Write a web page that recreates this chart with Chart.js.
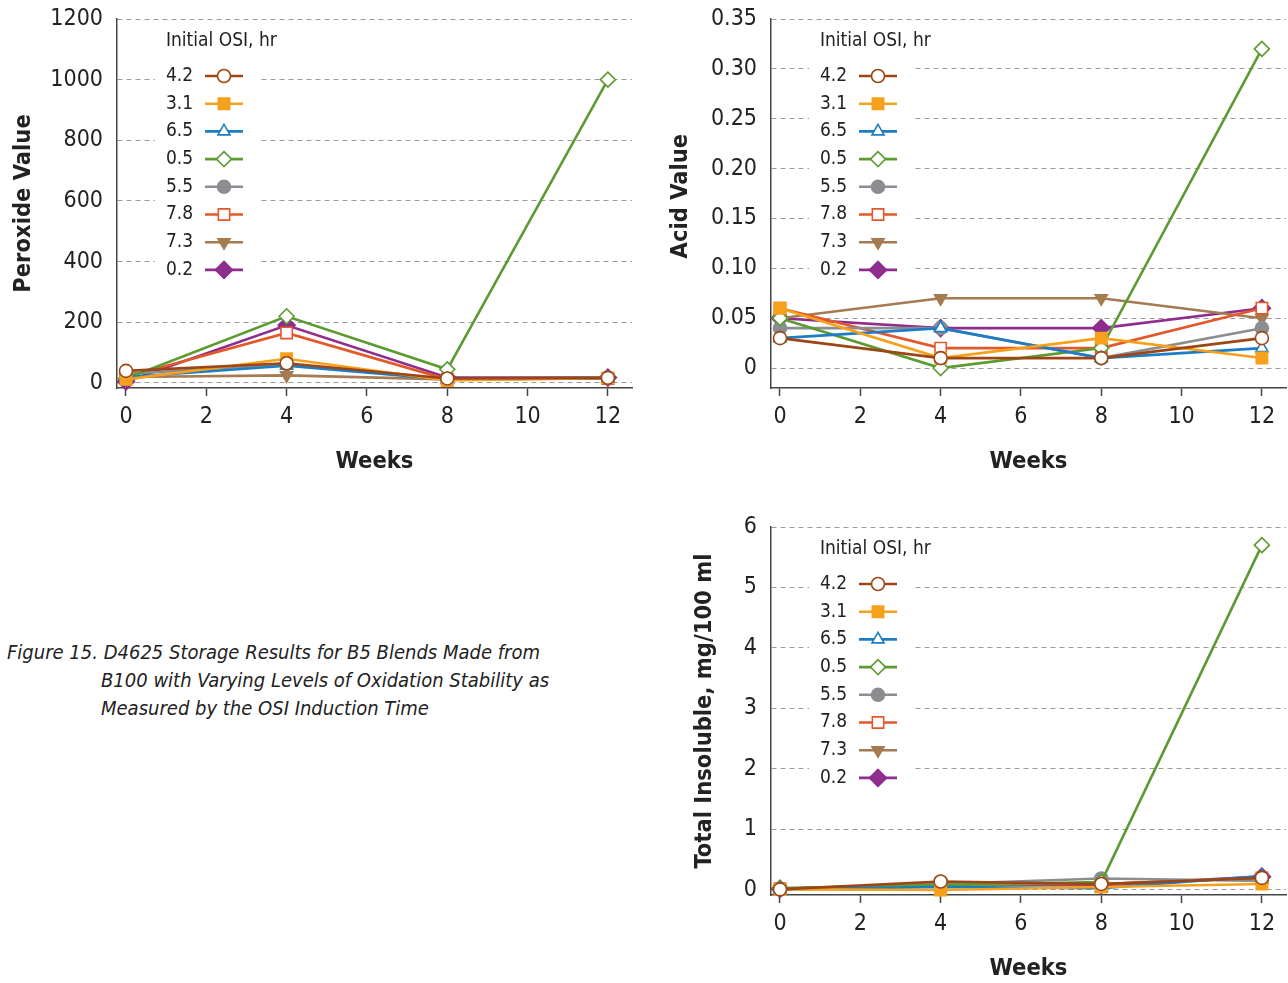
<!DOCTYPE html>
<html>
<head>
<meta charset="utf-8">
<script src="https://cdn.jsdelivr.net/npm/chart.js@4/dist/chart.umd.min.js"></script>
<style>
  html, body { margin: 0; padding: 0; background: #fff; }
  body { width: 1288px; height: 983px; position: relative; overflow: hidden; }
  .box { position: absolute; }
  #caption {
    position: absolute; left: 7px; top: 638px;
    font-family: 'Liberation Sans Narrow', 'DejaVu Sans Condensed', Roboto, sans-serif;
    font-style: italic; font-size: 20px; line-height: 28px; color: #222;
    white-space: nowrap;
  }
  #caption .ind { padding-left: 94px; }
</style>
</head>
<body>
<div class="box" style="left:0;top:0"><canvas id="perox" width="645" height="490"></canvas></div>
<div class="box" style="left:655px;top:0"><canvas id="acid" width="644" height="490"></canvas></div>
<div class="box" style="left:655px;top:500px"><canvas id="insol" width="644" height="483"></canvas></div>
<div id="caption">
  <div>Figure 15. D4625 Storage Results for B5 Blends Made from</div>
  <div class="ind">B100 with Varying Levels of Oxidation Stability as</div>
  <div class="ind">Measured by the OSI Induction Time</div>
</div>
<script>
"use strict";

const FONT = "'Liberation Sans Narrow', 'DejaVu Sans Condensed', Roboto, sans-serif";

// storage time, weeks
const WEEKS = [0, 4, 8, 12];
const X_TICKS = [0, 2, 4, 6, 8, 10, 12];

// one series per initial OSI value (hr), same order as below
const OSI_LABELS = ["4.2", "3.1", "6.5", "0.5", "5.5", "7.8", "7.3", "0.2"];

const PEROXIDE = [
  [40, 65, 15, 17],
  [12, 80, 8, 17],
  [19, 57, 12, 17],
  [15, 220, 45, 1000],
  [30, 62, 12, 17],
  [20, 165, 12, 15],
  [20, 25, 12, 17],
  [5, 190, 18, 18],
];
const PEROXIDE_TICKS = [0, 200, 400, 600, 800, 1000, 1200];

const ACID = [
  [0.03, 0.01, 0.01, 0.03],
  [0.06, 0.01, 0.03, 0.01],
  [0.03, 0.04, 0.01, 0.02],
  [0.05, 0.00, 0.02, 0.32],
  [0.04, 0.04, 0.01, 0.04],
  [0.06, 0.02, 0.02, 0.06],
  [0.05, 0.07, 0.07, 0.05],
  [0.05, 0.04, 0.04, 0.06],
];
const ACID_TICKS = [0, 0.05, 0.10, 0.15, 0.20, 0.25, 0.30, 0.35];

const INSOLUBLE = [
  [0.01, 0.14, 0.10, 0.20],
  [0.01, 0.00, 0.05, 0.10],
  [0.01, 0.05, 0.03, 0.23],
  [0.03, 0.08, 0.13, 5.70],
  [0.02, 0.10, 0.19, 0.15],
  [0.02, 0.10, 0.10, 0.20],
  [0.02, 0.10, 0.10, 0.20],
  [0.02, 0.10, 0.08, 0.22],
];
const INSOLUBLE_TICKS = [0, 1, 2, 3, 4, 5, 6];

/* marker style per series */
const STYLES = [
  { color: "#9c4615", style: "circle",   fill: "#fff",    r: 6.5 },
  { color: "#f6a11c", style: "rect",     fill: "#f6a11c", r: 8 },
  { color: "#1c7cc4", style: "triangle", fill: "#fff",    r: 7 },
  { color: "#5c9b31", style: "rectRot",  fill: "#fff",    r: 7.5 },
  { color: "#8b8d90", style: "circle",   fill: "#8b8d90", r: 6.5 },
  { color: "#e2582a", style: "rect",     fill: "#fff",    r: 8 },
  { color: "#a57b52", style: "triangle", fill: "#a57b52", r: 7, rot: 180 },
  { color: "#8e2d8e", style: "rectRot",  fill: "#8e2d8e", r: 8.5 },
];

Chart.defaults.font.family = FONT;
Chart.defaults.color = "#222";

/* in-plot legend: label text on the left, line + marker on the right */
const osiLegend = {
  id: "osiLegend",
  beforeDatasetsDraw(chart) {
    const { ctx, chartArea: a } = chart;
    ctx.save();
    ctx.fillStyle = "#fff";
    ctx.fillRect(a.left + 38, a.top + 6, 105, 258);
    ctx.font = `19px ${FONT}`;
    ctx.textBaseline = "middle";
    ctx.textAlign = "left";
    ctx.fillStyle = "#222";
    ctx.fillText("Initial OSI, hr", a.left + 49, a.top + 22);
    chart.data.datasets.forEach((ds, i) => {
      const y = a.top + 57 + i * 27.7;
      ctx.fillStyle = "#222";
      ctx.fillText(ds.label, a.left + 49, y);
      ctx.strokeStyle = ds.borderColor;
      ctx.lineWidth = ds.borderWidth;
      ctx.beginPath();
      ctx.moveTo(a.left + 88, y);
      ctx.lineTo(a.left + 126, y);
      ctx.stroke();
      ctx.fillStyle = ds.pointBackgroundColor;
      ctx.strokeStyle = ds.pointBorderColor;
      ctx.lineWidth = ds.pointBorderWidth;
      Chart.helpers.drawPoint(ctx, {
        pointStyle: ds.pointStyle,
        rotation: ds.pointRotation || 0,
        radius: ds.pointRadius,
        borderWidth: ds.pointBorderWidth,
      }, a.left + 107, y);
    });
    ctx.restore();
  },
};

function buildDatasets(rows) {
  return rows.map((row, i) => {
    const s = STYLES[i];
    return {
      label: OSI_LABELS[i],
      data: WEEKS.map((w, j) => ({ x: w, y: row[j] })),
      borderColor: s.color,
      backgroundColor: s.color,
      borderWidth: 2.6,
      pointStyle: s.style,
      pointRotation: s.rot || 0,
      pointRadius: s.r,
      pointBackgroundColor: s.fill,
      pointBorderColor: s.color,
      pointBorderWidth: 1.6,
      tension: 0,
      clip: false,
    };
  });
}

// drop the label overhang Chart.js reserves, so the plot area sits where we put it
function noOverhang(s) {
  s.paddingTop = 0; s.paddingBottom = 0;
  s.paddingLeft = 0; s.paddingRight = 0;
}

/**
 * opts: yMin, yMax, yTicks, yFmt, yTitle, yWidth, yTitlePad, xHeight, padding
 */
function createPanel(canvasId, rows, opts) {
  const ctx = document.getElementById(canvasId).getContext("2d");
  return new Chart(ctx, {
    type: "line",
    data: { datasets: buildDatasets(rows) },
    plugins: [osiLegend],
    options: {
      responsive: false,
      animation: false,
      events: [],
      layout: { padding: opts.padding },
      plugins: { legend: { display: false }, tooltip: { enabled: false } },
      scales: {
        x: {
          type: "linear",
          min: -0.224,
          max: 12.6,
          afterBuildTicks: s => { s.ticks = X_TICKS.map(v => ({ value: v })); },
          afterFit: s => { s.height = opts.xHeight; noOverhang(s); },
          grid: { drawOnChartArea: false, drawTicks: true, tickLength: 8, tickColor: "#444", tickWidth: 1.5 },
          border: { display: true, color: "#444", width: 1.5 },
          ticks: { font: { size: 23 }, color: "#222", padding: 7, maxRotation: 0 },
          title: {
            display: true, text: "Weeks", color: "#222", padding: 0,
            font: { size: 23.5, weight: "bold", lineHeight: 1 },
          },
        },
        y: {
          min: opts.yMin,
          max: opts.yMax,
          afterBuildTicks: s => { s.ticks = opts.yTicks.map(v => ({ value: v })); },
          afterFit: s => { s.width = opts.yWidth; noOverhang(s); },
          grid: { color: "#9a9a9a", lineWidth: 1, drawTicks: false },
          border: { display: true, color: "#444", width: 1.5, dash: [5, 4] },
          ticks: { font: { size: 23 }, color: "#222", padding: 14, callback: opts.yFmt },
          title: {
            display: true, text: opts.yTitle, color: "#222",
            padding: { top: opts.yTitlePad, bottom: 0 },
            font: { size: 23.5, weight: "bold", lineHeight: 1 },
          },
        },
      },
    },
  });
}

createPanel("perox", PEROXIDE, {
  yMin: -16.5, yMax: 1200, yTicks: PEROXIDE_TICKS, yFmt: v => String(v),
  yTitle: "Peroxide Value", yWidth: 117, yTitlePad: 12, xHeight: 86,
  padding: { top: 19, right: 13, left: 0, bottom: 16 },
});

createPanel("acid", ACID, {
  yMin: -0.02, yMax: 0.35, yTicks: ACID_TICKS, yFmt: v => (v === 0 ? "0" : v.toFixed(2)),
  yTitle: "\u00A0\u00A0Acid Value", yWidth: 116, yTitlePad: 14, xHeight: 86,
  padding: { top: 19, right: 13, left: 0, bottom: 16 },
});

createPanel("insol", INSOLUBLE, {
  yMin: -0.083, yMax: 6, yTicks: INSOLUBLE_TICKS, yFmt: v => String(v),
  yTitle: "Total Insoluble, mg/100 ml", yWidth: 116, yTitlePad: 38, xHeight: 86,
  padding: { top: 27, right: 13, left: 0, bottom: 2 },
});
</script>
</body>
</html>
